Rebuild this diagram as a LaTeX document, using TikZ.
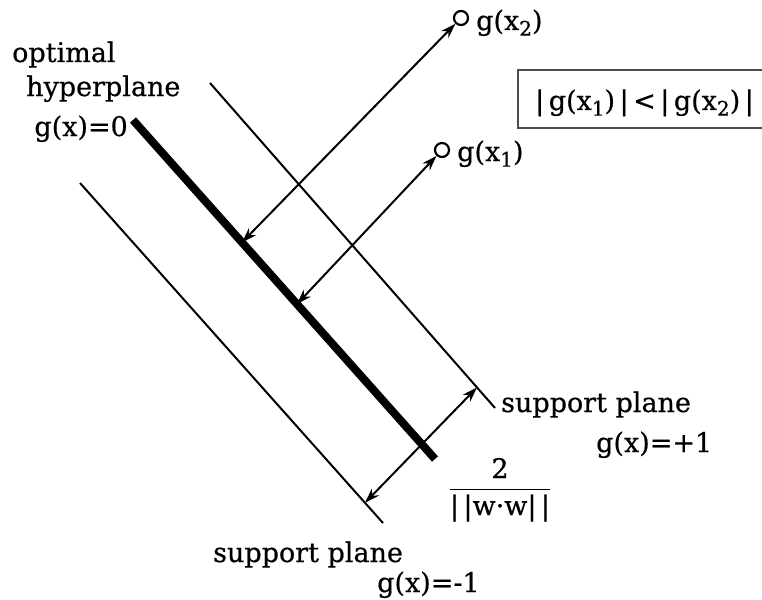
\documentclass[tikz,border=0pt]{standalone}
\usepackage{fontspec}
\setmainfont[FakeBold=0.6]{DejaVu Serif}
\usetikzlibrary{arrows.meta,calc}
\newcommand{\lowidx}[1]{\raisebox{-0.4ex}{\fontsize{20}{20}\selectfont #1}}
\begin{document}
\begin{tikzpicture}[x=1pt,y=-1pt,
  lbl/.style={inner sep=0pt,font=\fontsize{27}{32}\selectfont},
  thin/.style={line width=2pt},
  dbl/.style={line width=2pt,{Stealth[length=15pt,width=10pt]}-{Stealth[length=15pt,width=10pt]}},
  pt/.style={circle,draw,line width=2.2pt,minimum size=14pt,inner sep=0pt}]
\useasboundingbox (0,0) rectangle (762,599);
% planes
\coordinate (A1) at (133,120); \coordinate (A2) at (435,459);
\coordinate (B1) at (210,83);  \coordinate (B2) at (495,408);
\coordinate (C1) at (80,183);  \coordinate (C2) at (383,523);
\draw[line width=8pt] (A1) -- (A2);
\draw[thin] (B1) -- (B2);
\draw[thin] (C1) -- (C2);
% points
\node[pt] (p2) at (461,18) {};
\node[pt] (p1) at (442,150) {};
\coordinate (f2) at ($(A1)!0.361!(A2)$);
\coordinate (f1) at ($(A1)!0.543!(A2)$);
\draw[dbl] (f2) -- (p2);
\draw[dbl] (f1) -- (p1);
\coordinate (mL) at ($(C1)!0.9406!(C2)$);
\coordinate (mU) at ($(B1)!0.9368!(B2)$);
\draw[dbl] (mL) -- (mU);
% labels
\node[lbl,anchor=base west] (t2) at (476,30) {g(x\lowidx{2})};
\node[lbl,anchor=base west] (t1) at (457,161) {g(x\lowidx{1})};
\node[lbl,anchor=base west] (opt) at (12,62) {optimal};
\node[lbl,anchor=base west] (hyp) at (26,96) {hyperplane};
\node[lbl,anchor=base east] (g0) at (128,136) {g(x)=0};
\node[lbl,anchor=base west] (sp1) at (501,412) {support plane};
\node[lbl,anchor=base west] (gp1) at (596,452) {g(x)=+1};
\node[lbl,anchor=base west] (sp2) at (213,562) {support plane};
\node[lbl,anchor=base west] (gm1) at (377,592) {g(x)=-1};
\node[lbl] (num) at (500,468) {2};
\node[lbl] (den) at (500,508) {|\,|w·w|\,|};
\draw[line width=1.6pt] ($(den.north west)+(0,-5)$) coordinate (barL) -- ($(den.north east)+(0,-5)$) coordinate (barR);
\draw[line width=1.3pt,draw=black!70] (518,70) rectangle (770,128);
\node[lbl,anchor=base west] (ineq) at (535,110) {|\,g(x\lowidx{1})\,|\,<\,|\,g(x\lowidx{2})\,|};
\end{tikzpicture}
\end{document}
